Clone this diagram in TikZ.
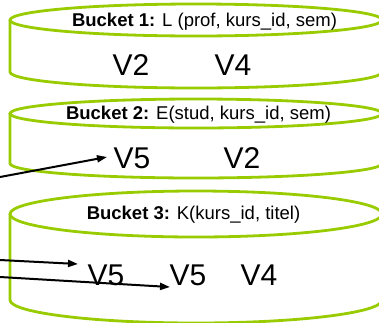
\documentclass[tikz,border=0pt]{standalone}
\usepackage{fontspec}
\setmainfont{Liberation Sans}
\usetikzlibrary{arrows.meta}
\definecolor{bucketgreen}{RGB}{153,204,0}
\tikzset{
  cyl/.style={draw=bucketgreen, line width=2.8pt},
  lbl/.style={font=\fontsize{18.5}{22}\selectfont, inner sep=0pt},
  vv/.style={font=\fontsize{30}{34}\selectfont, inner sep=0pt},
  arr/.style={line width=2pt, -{Triangle[length=10pt,width=7pt]}}
}
\begin{document}
\begin{tikzpicture}[x=1pt,y=-1pt]
\useasboundingbox (0,0) rectangle (379,322);
\clip (0,0) rectangle (379,322);
% Bucket 1
\draw[cyl] (196,20) ellipse [x radius=186pt, y radius=16pt];
\draw[cyl] (10,20) -- (10,72) arc[start angle=180, end angle=360, x radius=186pt, y radius=16pt] -- (382,20);
% Bucket 2
\draw[cyl] (196,113.5) ellipse [x radius=186pt, y radius=14.5pt];
\draw[cyl] (10,113.5) -- (10,163.5) arc[start angle=180, end angle=360, x radius=186pt, y radius=14.5pt] -- (382,113.5);
% Bucket 3
\draw[cyl] (196,214) ellipse [x radius=186pt, y radius=23pt];
\draw[cyl] (10,214) -- (10,300) arc[start angle=180, end angle=360, x radius=186pt, y radius=23pt] -- (382,214);
% labels
\node[lbl] (l1) at (204.5,22) {\textbf{Bucket 1:} L (prof, kurs\_id, sem)};
\node[lbl] (l2) at (198.5,115) {\textbf{Bucket 2:} E(stud, kurs\_id, sem)};
\node[lbl] (l3) at (193.5,215) {\textbf{Bucket 3:} K(kurs\_id, titel)};
% views
\node[vv] (b1v2) at (131,65) {V2};
\node[vv] (b1v4) at (233,65) {V4};
\node[vv] (b2v5) at (132,158) {V5};
\node[vv] (b2v2) at (242,158) {V2};
\node[vv] (b3v5a) at (106,275) {V5};
\node[vv] (b3v5b) at (188,275) {V5};
\node[vv] (b3v4) at (259,275) {V4};
% arrows
\coordinate (s1) at (0,177);
\coordinate (e1) at (107,157);
\coordinate (s2) at (0,260);
\coordinate (e2) at (78,264);
\coordinate (s3) at (0,277);
\coordinate (e3) at (170,287);
\draw[arr] (s1) -- (e1);
\draw[arr] (s2) -- (e2);
\draw[arr] (s3) -- (e3);
\end{tikzpicture}
\end{document}
